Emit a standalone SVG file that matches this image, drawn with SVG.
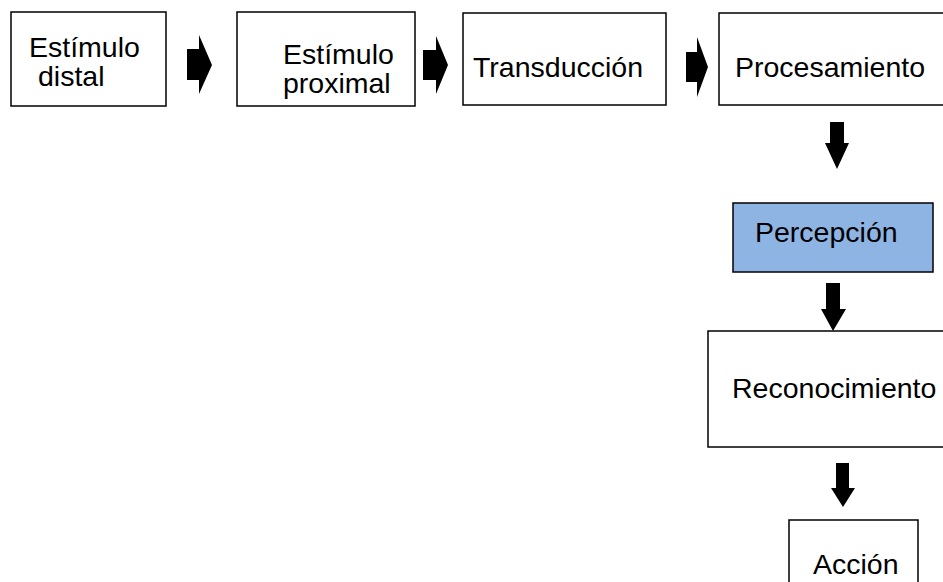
<svg xmlns="http://www.w3.org/2000/svg" width="943" height="582" viewBox="0 0 943 582">
<style>
.box{fill:#ffffff;stroke:#000000;stroke-width:1.5}
.blue{fill:#8EB4E3;stroke:#000000;stroke-width:1.5}
.t{font-family:"Liberation Sans",Arial,sans-serif;font-size:28.5px;fill:#000000}
.arr{fill:#000000;stroke:none}
</style>
<rect x="0" y="0" width="943" height="582" fill="#ffffff"/>
<g id="n1"><rect class="box" x="11" y="12" width="155" height="94"/><text class="t" x="29" y="57">Estímulo</text><text class="t" x="38" y="86">distal</text></g>
<g id="n2"><rect class="box" x="237" y="12" width="178" height="94"/><text class="t" x="283" y="64">Estímulo</text><text class="t" x="283" y="93">proximal</text></g>
<g id="n3"><rect class="box" x="463" y="13" width="203" height="92"/><text class="t" x="473" y="77">Transducción</text></g>
<g id="n4"><rect class="box" x="719" y="13" width="240" height="92"/><text class="t" x="735" y="77">Procesamiento</text></g>
<g id="n5"><rect class="blue" x="733" y="203" width="200" height="69"/><text class="t" x="755" y="242">Percepción</text></g>
<g id="n6"><rect class="box" x="708" y="331" width="250" height="116"/><text class="t" x="732" y="398">Reconocimiento</text></g>
<g id="n7"><rect class="box" x="789" y="520" width="129" height="80"/><text class="t" x="813" y="574">Acción</text></g>
<g id="connectors">
<polygon class="arr" points="187,49 199,49 199,35 212,65 199,94 199,80 187,80"/>
<polygon class="arr" points="423,50 436,50 436,36 448,65 436,94 436,80 423,80"/>
<polygon class="arr" points="686,52 697,52 697,37 708,67 697,97 697,82 686,82"/>
<polygon class="arr" points="830,122 844,122 844,143 849,143 837,169 825,143 830,143"/>
<polygon class="arr" points="826,283 840,283 840,309 846,309 833,331 821,309 826,309"/>
<polygon class="arr" points="836,463 849,463 849,488 855,488 843,507 831,488 836,488"/>
</g>
</svg>
